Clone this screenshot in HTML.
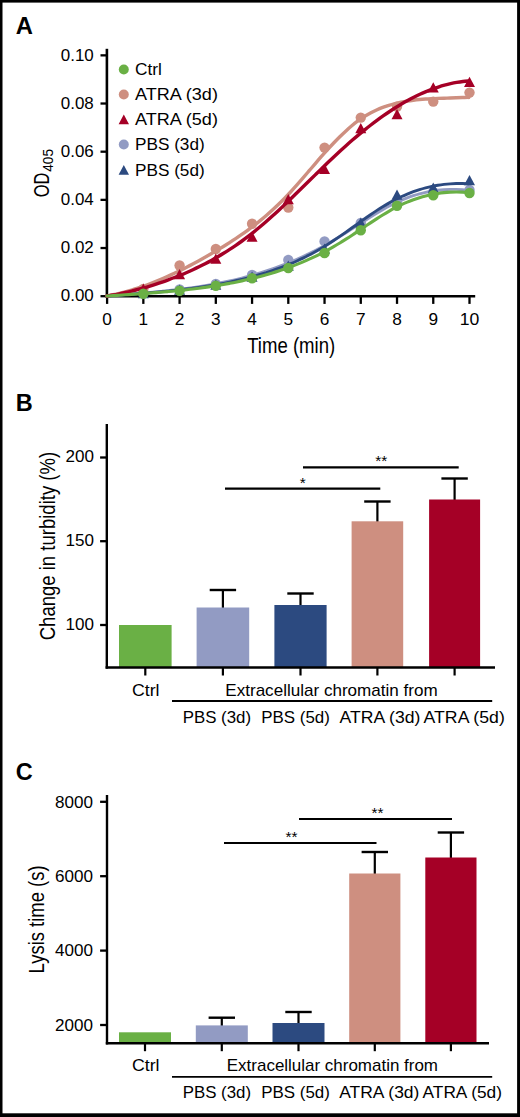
<!DOCTYPE html>
<html lang="en"><head><meta charset="utf-8"><title>Figure</title>
<style>html,body{margin:0;padding:0;background:#fff}svg{display:block}text{font-family:"Liberation Sans", Arial, Helvetica, sans-serif;fill:#000}</style></head><body>
<svg width="520" height="1117" viewBox="0 0 520 1117" role="img" aria-label="Figure panels A, B and C">
<rect x="0" y="0" width="520" height="1117" fill="#fff"/>
<rect x="0" y="0" width="520" height="2.6" fill="#000"/>
<rect x="0" y="1113.3" width="520" height="3.7" fill="#000"/>
<rect x="0" y="0" width="2.5" height="1117" fill="#000"/>
<rect x="517.1" y="0" width="2.9" height="1117" fill="#000"/>
<text x="15.7" y="33.8" font-size="23.8" text-anchor="start" font-weight="bold">A</text>
<line x1="106.9" y1="48.8" x2="106.9" y2="297.45" stroke="#000" stroke-width="2.6" stroke-linecap="butt"/>
<line x1="105.60000000000001" y1="296.2" x2="475.2" y2="296.2" stroke="#000" stroke-width="2.5" stroke-linecap="butt"/>
<line x1="100.5" y1="296.2" x2="106.9" y2="296.2" stroke="#000" stroke-width="2.3" stroke-linecap="butt"/>
<text x="93.8" y="301.4" font-size="15.7" text-anchor="end" font-weight="normal" textLength="33" lengthAdjust="spacingAndGlyphs">0.00</text>
<line x1="100.5" y1="248.02999999999997" x2="106.9" y2="248.02999999999997" stroke="#000" stroke-width="2.3" stroke-linecap="butt"/>
<text x="93.8" y="253.22999999999996" font-size="15.7" text-anchor="end" font-weight="normal" textLength="33" lengthAdjust="spacingAndGlyphs">0.02</text>
<line x1="100.5" y1="199.85999999999999" x2="106.9" y2="199.85999999999999" stroke="#000" stroke-width="2.3" stroke-linecap="butt"/>
<text x="93.8" y="205.05999999999997" font-size="15.7" text-anchor="end" font-weight="normal" textLength="33" lengthAdjust="spacingAndGlyphs">0.04</text>
<line x1="100.5" y1="151.69" x2="106.9" y2="151.69" stroke="#000" stroke-width="2.3" stroke-linecap="butt"/>
<text x="93.8" y="156.89" font-size="15.7" text-anchor="end" font-weight="normal" textLength="33" lengthAdjust="spacingAndGlyphs">0.06</text>
<line x1="100.5" y1="103.51999999999998" x2="106.9" y2="103.51999999999998" stroke="#000" stroke-width="2.3" stroke-linecap="butt"/>
<text x="93.8" y="108.71999999999998" font-size="15.7" text-anchor="end" font-weight="normal" textLength="33" lengthAdjust="spacingAndGlyphs">0.08</text>
<line x1="100.5" y1="55.349999999999966" x2="106.9" y2="55.349999999999966" stroke="#000" stroke-width="2.3" stroke-linecap="butt"/>
<text x="93.8" y="60.54999999999997" font-size="15.7" text-anchor="end" font-weight="normal" textLength="33" lengthAdjust="spacingAndGlyphs">0.10</text>
<line x1="107.1" y1="296.2" x2="107.1" y2="303.9" stroke="#000" stroke-width="2.3" stroke-linecap="butt"/>
<text x="107.1" y="324.7" font-size="15.7" text-anchor="middle" font-weight="normal" textLength="9.6" lengthAdjust="spacingAndGlyphs">0</text>
<line x1="143.34" y1="296.2" x2="143.34" y2="303.9" stroke="#000" stroke-width="2.3" stroke-linecap="butt"/>
<text x="143.34" y="324.7" font-size="15.7" text-anchor="middle" font-weight="normal" textLength="9.6" lengthAdjust="spacingAndGlyphs">1</text>
<line x1="179.57999999999998" y1="296.2" x2="179.57999999999998" y2="303.9" stroke="#000" stroke-width="2.3" stroke-linecap="butt"/>
<text x="179.57999999999998" y="324.7" font-size="15.7" text-anchor="middle" font-weight="normal" textLength="9.6" lengthAdjust="spacingAndGlyphs">2</text>
<line x1="215.82" y1="296.2" x2="215.82" y2="303.9" stroke="#000" stroke-width="2.3" stroke-linecap="butt"/>
<text x="215.82" y="324.7" font-size="15.7" text-anchor="middle" font-weight="normal" textLength="9.6" lengthAdjust="spacingAndGlyphs">3</text>
<line x1="252.06" y1="296.2" x2="252.06" y2="303.9" stroke="#000" stroke-width="2.3" stroke-linecap="butt"/>
<text x="252.06" y="324.7" font-size="15.7" text-anchor="middle" font-weight="normal" textLength="9.6" lengthAdjust="spacingAndGlyphs">4</text>
<line x1="288.3" y1="296.2" x2="288.3" y2="303.9" stroke="#000" stroke-width="2.3" stroke-linecap="butt"/>
<text x="288.3" y="324.7" font-size="15.7" text-anchor="middle" font-weight="normal" textLength="9.6" lengthAdjust="spacingAndGlyphs">5</text>
<line x1="324.53999999999996" y1="296.2" x2="324.53999999999996" y2="303.9" stroke="#000" stroke-width="2.3" stroke-linecap="butt"/>
<text x="324.53999999999996" y="324.7" font-size="15.7" text-anchor="middle" font-weight="normal" textLength="9.6" lengthAdjust="spacingAndGlyphs">6</text>
<line x1="360.78" y1="296.2" x2="360.78" y2="303.9" stroke="#000" stroke-width="2.3" stroke-linecap="butt"/>
<text x="360.78" y="324.7" font-size="15.7" text-anchor="middle" font-weight="normal" textLength="9.6" lengthAdjust="spacingAndGlyphs">7</text>
<line x1="397.02" y1="296.2" x2="397.02" y2="303.9" stroke="#000" stroke-width="2.3" stroke-linecap="butt"/>
<text x="397.02" y="324.7" font-size="15.7" text-anchor="middle" font-weight="normal" textLength="9.6" lengthAdjust="spacingAndGlyphs">8</text>
<line x1="433.26" y1="296.2" x2="433.26" y2="303.9" stroke="#000" stroke-width="2.3" stroke-linecap="butt"/>
<text x="433.26" y="324.7" font-size="15.7" text-anchor="middle" font-weight="normal" textLength="9.6" lengthAdjust="spacingAndGlyphs">9</text>
<line x1="469.5" y1="296.2" x2="469.5" y2="303.9" stroke="#000" stroke-width="2.3" stroke-linecap="butt"/>
<text x="469.5" y="324.7" font-size="15.7" text-anchor="middle" font-weight="normal" textLength="19.6" lengthAdjust="spacingAndGlyphs">10</text>
<text x="291.2" y="352.8" font-size="22.3" text-anchor="middle" font-weight="normal" textLength="88" lengthAdjust="spacingAndGlyphs">Time (min)</text>
<text transform="translate(49.3,197.3) rotate(-90)" font-size="21.8" textLength="24.6" lengthAdjust="spacingAndGlyphs">OD</text>
<text transform="translate(53.2,171.8) rotate(-90)" font-size="14.8" textLength="22.8" lengthAdjust="spacingAndGlyphs">405</text>
<path d="M107.00,296.00 C108.02,295.94 111.08,295.78 113.13,295.63 C115.17,295.49 117.21,295.30 119.25,295.13 C121.30,294.96 123.34,294.80 125.38,294.63 C127.42,294.46 129.47,294.29 131.51,294.12 C133.55,293.95 135.59,293.78 137.64,293.60 C139.68,293.43 141.72,293.25 143.76,293.07 C145.81,292.89 147.85,292.70 149.89,292.51 C151.93,292.32 153.97,292.13 156.02,291.93 C158.06,291.73 160.10,291.52 162.14,291.31 C164.19,291.10 166.23,290.88 168.27,290.66 C170.31,290.44 172.36,290.20 174.40,289.97 C176.44,289.73 178.48,289.48 180.53,289.22 C182.57,288.97 184.61,288.70 186.65,288.43 C188.69,288.16 190.74,287.87 192.78,287.58 C194.82,287.28 196.86,286.98 198.91,286.66 C200.95,286.35 202.99,286.02 205.03,285.68 C207.08,285.34 209.12,284.99 211.16,284.62 C213.20,284.26 215.25,283.88 217.29,283.49 C219.33,283.10 221.37,282.69 223.42,282.27 C225.46,281.85 227.50,281.42 229.54,280.97 C231.58,280.52 233.63,280.05 235.67,279.57 C237.71,279.08 239.75,278.58 241.80,278.07 C243.84,277.55 245.88,277.02 247.92,276.46 C249.97,275.91 252.01,275.34 254.05,274.75 C256.09,274.16 258.14,273.55 260.18,272.93 C262.22,272.30 264.26,271.65 266.31,270.98 C268.35,270.31 270.39,269.62 272.43,268.91 C274.47,268.20 276.52,267.46 278.56,266.71 C280.60,265.95 282.64,265.17 284.69,264.37 C286.73,263.57 288.77,262.74 290.81,261.89 C292.86,261.04 294.90,260.17 296.94,259.27 C298.98,258.37 301.03,257.45 303.07,256.50 C305.11,255.55 307.15,254.57 309.19,253.57 C311.24,252.57 313.28,251.54 315.32,250.48 C317.36,249.42 319.41,248.34 321.45,247.23 C323.49,246.11 325.53,244.97 327.58,243.80 C329.62,242.63 331.66,241.43 333.70,240.22 C335.75,239.00 337.79,237.76 339.83,236.51 C341.87,235.26 343.92,233.99 345.96,232.71 C348.00,231.43 350.04,230.13 352.08,228.84 C354.13,227.54 356.17,226.23 358.21,224.93 C360.25,223.63 362.30,222.31 364.34,221.02 C366.38,219.72 368.42,218.42 370.47,217.14 C372.51,215.86 374.55,214.60 376.59,213.36 C378.64,212.13 380.68,210.91 382.72,209.74 C384.76,208.57 386.81,207.42 388.85,206.33 C390.89,205.24 392.93,204.18 394.97,203.19 C397.02,202.20 399.06,201.26 401.10,200.37 C403.14,199.49 405.19,198.67 407.23,197.89 C409.27,197.12 411.31,196.40 413.36,195.74 C415.40,195.08 417.44,194.47 419.48,193.91 C421.53,193.36 423.57,192.85 425.61,192.40 C427.65,191.95 429.69,191.55 431.74,191.20 C433.78,190.85 435.82,190.56 437.86,190.31 C439.91,190.06 441.95,189.86 443.99,189.72 C446.03,189.57 448.08,189.47 450.12,189.42 C452.16,189.37 454.20,189.36 456.25,189.41 C458.29,189.45 460.33,189.54 462.37,189.68 C464.42,189.82 467.48,190.14 468.50,190.23" fill="none" stroke="#929bc3" stroke-width="2.9" stroke-linecap="round" stroke-linejoin="round"/>
<circle cx="143.34" cy="293" r="5.2" fill="#929bc3"/>
<circle cx="179.57999999999998" cy="289.5" r="5.2" fill="#929bc3"/>
<circle cx="215.82" cy="284" r="5.2" fill="#929bc3"/>
<circle cx="252.06" cy="275" r="5.2" fill="#929bc3"/>
<circle cx="288.3" cy="260" r="5.2" fill="#929bc3"/>
<circle cx="324.53999999999996" cy="241.4" r="5.2" fill="#929bc3"/>
<circle cx="360.78" cy="223" r="5.2" fill="#929bc3"/>
<circle cx="397.02" cy="202" r="5.2" fill="#929bc3"/>
<circle cx="433.26" cy="192" r="5.2" fill="#929bc3"/>
<circle cx="469.5" cy="190" r="5.2" fill="#929bc3"/>
<path d="M107.00,296.00 C108.02,295.93 111.08,295.75 113.13,295.61 C115.17,295.47 117.21,295.30 119.25,295.15 C121.30,295.00 123.34,294.85 125.38,294.69 C127.42,294.54 129.47,294.39 131.51,294.23 C133.55,294.08 135.59,293.92 137.64,293.76 C139.68,293.60 141.72,293.44 143.76,293.28 C145.81,293.11 147.85,292.95 149.89,292.77 C151.93,292.60 153.97,292.43 156.02,292.24 C158.06,292.06 160.10,291.88 162.14,291.69 C164.19,291.49 166.23,291.30 168.27,291.09 C170.31,290.89 172.36,290.68 174.40,290.46 C176.44,290.24 178.48,290.01 180.53,289.78 C182.57,289.54 184.61,289.30 186.65,289.05 C188.69,288.80 190.74,288.53 192.78,288.26 C194.82,287.99 196.86,287.71 198.91,287.42 C200.95,287.12 202.99,286.82 205.03,286.50 C207.08,286.19 209.12,285.86 211.16,285.52 C213.20,285.18 215.25,284.82 217.29,284.46 C219.33,284.09 221.37,283.71 223.42,283.31 C225.46,282.92 227.50,282.51 229.54,282.09 C231.58,281.66 233.63,281.22 235.67,280.76 C237.71,280.31 239.75,279.84 241.80,279.35 C243.84,278.86 245.88,278.35 247.92,277.83 C249.97,277.30 252.01,276.76 254.05,276.20 C256.09,275.64 258.14,275.06 260.18,274.45 C262.22,273.85 264.26,273.23 266.31,272.59 C268.35,271.94 270.39,271.27 272.43,270.58 C274.47,269.89 276.52,269.17 278.56,268.42 C280.60,267.68 282.64,266.91 284.69,266.11 C286.73,265.31 288.77,264.48 290.81,263.62 C292.86,262.77 294.90,261.88 296.94,260.96 C298.98,260.03 301.03,259.08 303.07,258.10 C305.11,257.11 307.15,256.09 309.19,255.03 C311.24,253.97 313.28,252.88 315.32,251.75 C317.36,250.62 319.41,249.45 321.45,248.24 C323.49,247.03 325.53,245.78 327.58,244.49 C329.62,243.21 331.66,241.88 333.70,240.53 C335.75,239.17 337.79,237.79 339.83,236.38 C341.87,234.98 343.92,233.54 345.96,232.10 C348.00,230.65 350.04,229.19 352.08,227.73 C354.13,226.27 356.17,224.80 358.21,223.34 C360.25,221.89 362.30,220.42 364.34,218.99 C366.38,217.56 368.42,216.13 370.47,214.73 C372.51,213.34 374.55,211.97 376.59,210.63 C378.64,209.30 380.68,208.00 382.72,206.75 C384.76,205.50 386.81,204.28 388.85,203.12 C390.89,201.96 392.93,200.84 394.97,199.78 C397.02,198.72 399.06,197.71 401.10,196.76 C403.14,195.80 405.19,194.91 407.23,194.06 C409.27,193.21 411.31,192.42 413.36,191.68 C415.40,190.94 417.44,190.25 419.48,189.62 C421.53,188.98 423.57,188.40 425.61,187.86 C427.65,187.33 429.69,186.84 431.74,186.41 C433.78,185.98 435.82,185.59 437.86,185.26 C439.91,184.92 441.95,184.64 443.99,184.40 C446.03,184.16 448.08,183.97 450.12,183.83 C452.16,183.68 454.20,183.59 456.25,183.54 C458.29,183.49 460.33,183.49 462.37,183.53 C464.42,183.57 467.48,183.75 468.50,183.79" fill="none" stroke="#2c4a80" stroke-width="2.9" stroke-linecap="round" stroke-linejoin="round"/>
<polygon points="143.34,288.00 148.84,298.18 137.84,298.18" fill="#2c4a80"/>
<polygon points="179.58,284.50 185.08,294.68 174.08,294.68" fill="#2c4a80"/>
<polygon points="215.82,279.50 221.32,289.68 210.32,289.68" fill="#2c4a80"/>
<polygon points="252.06,271.50 257.56,281.68 246.56,281.68" fill="#2c4a80"/>
<polygon points="288.30,260.50 293.80,270.68 282.80,270.68" fill="#2c4a80"/>
<polygon points="324.54,243.50 330.04,253.68 319.04,253.68" fill="#2c4a80"/>
<polygon points="360.78,217.50 366.28,227.68 355.28,227.68" fill="#2c4a80"/>
<polygon points="397.02,189.50 402.52,199.68 391.52,199.68" fill="#2c4a80"/>
<polygon points="433.26,182.50 438.76,192.68 427.76,192.68" fill="#2c4a80"/>
<polygon points="469.50,175.10 475.00,185.28 464.00,185.28" fill="#2c4a80"/>
<path d="M107.00,296.00 C108.02,295.79 111.08,295.18 113.13,294.73 C115.17,294.29 117.21,293.83 119.25,293.34 C121.30,292.85 123.34,292.32 125.38,291.77 C127.42,291.21 129.47,290.63 131.51,290.02 C133.55,289.41 135.59,288.76 137.64,288.10 C139.68,287.43 141.72,286.73 143.76,286.01 C145.81,285.29 147.85,284.54 149.89,283.77 C151.93,282.99 153.97,282.19 156.02,281.37 C158.06,280.54 160.10,279.69 162.14,278.82 C164.19,277.95 166.23,277.05 168.27,276.13 C170.31,275.21 172.36,274.27 174.40,273.31 C176.44,272.34 178.48,271.35 180.53,270.35 C182.57,269.34 184.61,268.31 186.65,267.26 C188.69,266.22 190.74,265.15 192.78,264.06 C194.82,262.97 196.86,261.87 198.91,260.74 C200.95,259.62 202.99,258.48 205.03,257.32 C207.08,256.16 209.12,254.98 211.16,253.79 C213.20,252.60 215.25,251.39 217.29,250.16 C219.33,248.94 221.37,247.70 223.42,246.43 C225.46,245.17 227.50,243.89 229.54,242.58 C231.58,241.27 233.63,239.94 235.67,238.58 C237.71,237.22 239.75,235.83 241.80,234.41 C243.84,232.98 245.88,231.53 247.92,230.04 C249.97,228.54 252.01,227.01 254.05,225.44 C256.09,223.86 258.14,222.25 260.18,220.59 C262.22,218.93 264.26,217.23 266.31,215.47 C268.35,213.71 270.39,211.91 272.43,210.05 C274.47,208.18 276.52,206.27 278.56,204.30 C280.60,202.32 282.64,200.30 284.69,198.20 C286.73,196.11 288.77,193.94 290.81,191.73 C292.86,189.52 294.90,187.23 296.94,184.92 C298.98,182.61 301.03,180.25 303.07,177.88 C305.11,175.51 307.15,173.11 309.19,170.72 C311.24,168.33 313.28,165.92 315.32,163.54 C317.36,161.16 319.41,158.78 321.45,156.46 C323.49,154.13 325.53,151.82 327.58,149.57 C329.62,147.32 331.66,145.11 333.70,142.97 C335.75,140.83 337.79,138.74 339.83,136.72 C341.87,134.71 343.92,132.75 345.96,130.89 C348.00,129.03 350.04,127.23 352.08,125.54 C354.13,123.85 356.17,122.24 358.21,120.74 C360.25,119.24 362.30,117.84 364.34,116.55 C366.38,115.26 368.42,114.07 370.47,112.97 C372.51,111.87 374.55,110.87 376.59,109.95 C378.64,109.02 380.68,108.19 382.72,107.42 C384.76,106.65 386.81,105.96 388.85,105.33 C390.89,104.69 392.93,104.13 394.97,103.61 C397.02,103.09 399.06,102.63 401.10,102.21 C403.14,101.79 405.19,101.43 407.23,101.10 C409.27,100.76 411.31,100.48 413.36,100.22 C415.40,99.96 417.44,99.74 419.48,99.55 C421.53,99.35 423.57,99.19 425.61,99.05 C427.65,98.90 429.69,98.79 431.74,98.68 C433.78,98.57 435.82,98.49 437.86,98.41 C439.91,98.33 441.95,98.27 443.99,98.20 C446.03,98.13 448.08,98.08 450.12,98.02 C452.16,97.95 454.20,97.89 456.25,97.82 C458.29,97.75 460.33,97.67 462.37,97.57 C464.42,97.48 467.48,97.30 468.50,97.25" fill="none" stroke="#ce8f80" stroke-width="3.4" stroke-linecap="round" stroke-linejoin="round"/>
<line x1="468.8" y1="97.5" x2="469.1" y2="93" stroke="#ce8f80" stroke-width="3.4" stroke-linecap="round"/>
<circle cx="143.34" cy="289" r="5.2" fill="#ce8f80"/>
<circle cx="179.57999999999998" cy="265.5" r="5.2" fill="#ce8f80"/>
<circle cx="215.82" cy="249" r="5.2" fill="#ce8f80"/>
<circle cx="252.06" cy="223.7" r="5.2" fill="#ce8f80"/>
<circle cx="288.3" cy="207.5" r="5.2" fill="#ce8f80"/>
<circle cx="324.53999999999996" cy="147.6" r="5.2" fill="#ce8f80"/>
<circle cx="360.78" cy="117.6" r="5.2" fill="#ce8f80"/>
<circle cx="397.02" cy="106.6" r="5.2" fill="#ce8f80"/>
<circle cx="433.26" cy="101.6" r="5.2" fill="#ce8f80"/>
<circle cx="469.5" cy="92.6" r="5.2" fill="#ce8f80"/>
<path d="M107.00,296.00 C108.02,295.84 111.09,295.39 113.14,295.03 C115.18,294.66 117.23,294.24 119.27,293.81 C121.32,293.39 123.36,292.94 125.41,292.48 C127.45,292.02 129.50,291.54 131.54,291.04 C133.59,290.54 135.63,290.03 137.68,289.49 C139.72,288.95 141.77,288.39 143.81,287.81 C145.86,287.23 147.90,286.63 149.95,286.01 C151.99,285.39 154.04,284.75 156.08,284.09 C158.13,283.43 160.18,282.74 162.22,282.04 C164.27,281.33 166.31,280.60 168.36,279.85 C170.40,279.10 172.45,278.33 174.49,277.53 C176.54,276.74 178.58,275.92 180.63,275.08 C182.67,274.23 184.72,273.37 186.76,272.47 C188.81,271.58 190.85,270.66 192.90,269.72 C194.94,268.77 196.99,267.80 199.03,266.80 C201.08,265.80 203.12,264.77 205.17,263.71 C207.21,262.65 209.26,261.56 211.31,260.44 C213.35,259.31 215.40,258.16 217.44,256.97 C219.49,255.78 221.53,254.56 223.58,253.30 C225.62,252.05 227.67,250.76 229.71,249.43 C231.76,248.10 233.80,246.73 235.85,245.33 C237.89,243.92 239.94,242.48 241.98,241.00 C244.03,239.51 246.07,237.99 248.12,236.42 C250.16,234.86 252.21,233.25 254.25,231.60 C256.30,229.96 258.34,228.26 260.39,226.54 C262.44,224.81 264.48,223.05 266.53,221.25 C268.57,219.46 270.62,217.63 272.66,215.78 C274.71,213.93 276.75,212.05 278.80,210.15 C280.84,208.24 282.89,206.32 284.93,204.38 C286.98,202.43 289.02,200.47 291.07,198.50 C293.11,196.53 295.16,194.54 297.20,192.55 C299.25,190.55 301.29,188.55 303.34,186.54 C305.38,184.54 307.43,182.52 309.47,180.52 C311.52,178.51 313.56,176.50 315.61,174.50 C317.66,172.50 319.70,170.50 321.75,168.51 C323.79,166.53 325.84,164.55 327.88,162.59 C329.93,160.63 331.97,158.68 334.02,156.76 C336.06,154.83 338.11,152.92 340.15,151.04 C342.20,149.16 344.24,147.30 346.29,145.48 C348.33,143.65 350.38,141.85 352.42,140.08 C354.47,138.31 356.51,136.57 358.56,134.86 C360.60,133.15 362.65,131.47 364.69,129.82 C366.74,128.18 368.79,126.56 370.83,124.98 C372.88,123.41 374.92,121.86 376.97,120.35 C379.01,118.84 381.06,117.36 383.10,115.93 C385.15,114.49 387.19,113.09 389.24,111.73 C391.28,110.36 393.33,109.04 395.37,107.75 C397.42,106.47 399.46,105.22 401.51,104.02 C403.55,102.81 405.60,101.65 407.64,100.52 C409.69,99.40 411.73,98.32 413.78,97.29 C415.82,96.25 417.87,95.26 419.92,94.31 C421.96,93.37 424.01,92.46 426.05,91.61 C428.10,90.75 430.14,89.94 432.19,89.18 C434.23,88.42 436.28,87.71 438.32,87.04 C440.37,86.38 442.41,85.76 444.46,85.20 C446.50,84.64 448.55,84.12 450.59,83.66 C452.64,83.20 454.68,82.79 456.73,82.43 C458.77,82.08 460.82,81.77 462.86,81.53 C464.91,81.28 467.98,81.04 469.00,80.95" fill="none" stroke="#a50026" stroke-width="3.4" stroke-linecap="round" stroke-linejoin="round"/>
<polygon points="143.34,283.50 148.84,293.68 137.84,293.68" fill="#a50026"/>
<polygon points="179.58,269.00 185.08,279.18 174.08,279.18" fill="#a50026"/>
<polygon points="215.82,253.50 221.32,263.68 210.32,263.68" fill="#a50026"/>
<polygon points="252.06,231.50 257.56,241.68 246.56,241.68" fill="#a50026"/>
<polygon points="288.30,194.00 293.80,204.18 282.80,204.18" fill="#a50026"/>
<polygon points="324.54,163.70 330.04,173.88 319.04,173.88" fill="#a50026"/>
<polygon points="360.78,123.00 366.28,133.18 355.28,133.18" fill="#a50026"/>
<polygon points="397.02,109.00 402.52,119.17 391.52,119.17" fill="#a50026"/>
<polygon points="433.26,82.30 438.76,92.47 427.76,92.47" fill="#a50026"/>
<polygon points="469.50,76.70 475.00,86.88 464.00,86.88" fill="#a50026"/>
<path d="M107.00,296.00 C108.02,295.94 111.08,295.78 113.13,295.65 C115.17,295.52 117.21,295.37 119.25,295.23 C121.30,295.10 123.34,294.96 125.38,294.82 C127.42,294.68 129.47,294.54 131.51,294.40 C133.55,294.26 135.59,294.12 137.64,293.97 C139.68,293.83 141.72,293.68 143.76,293.53 C145.81,293.38 147.85,293.23 149.89,293.07 C151.93,292.91 153.97,292.75 156.02,292.59 C158.06,292.42 160.10,292.26 162.14,292.08 C164.19,291.91 166.23,291.73 168.27,291.54 C170.31,291.35 172.36,291.16 174.40,290.96 C176.44,290.76 178.48,290.56 180.53,290.34 C182.57,290.13 184.61,289.91 186.65,289.68 C188.69,289.45 190.74,289.21 192.78,288.97 C194.82,288.72 196.86,288.46 198.91,288.20 C200.95,287.93 202.99,287.65 205.03,287.37 C207.08,287.08 209.12,286.78 211.16,286.47 C213.20,286.16 215.25,285.84 217.29,285.51 C219.33,285.18 221.37,284.83 223.42,284.47 C225.46,284.12 227.50,283.75 229.54,283.36 C231.58,282.97 233.63,282.58 235.67,282.16 C237.71,281.75 239.75,281.32 241.80,280.88 C243.84,280.43 245.88,279.98 247.92,279.50 C249.97,279.03 252.01,278.53 254.05,278.03 C256.09,277.52 258.14,276.99 260.18,276.45 C262.22,275.91 264.26,275.34 266.31,274.76 C268.35,274.18 270.39,273.58 272.43,272.96 C274.47,272.33 276.52,271.69 278.56,271.02 C280.60,270.36 282.64,269.67 284.69,268.96 C286.73,268.24 288.77,267.51 290.81,266.75 C292.86,265.99 294.90,265.20 296.94,264.39 C298.98,263.58 301.03,262.74 303.07,261.87 C305.11,261.01 307.15,260.11 309.19,259.19 C311.24,258.27 313.28,257.31 315.32,256.33 C317.36,255.35 319.41,254.34 321.45,253.29 C323.49,252.25 325.53,251.17 327.58,250.06 C329.62,248.95 331.66,247.81 333.70,246.64 C335.75,245.46 337.79,244.25 339.83,243.00 C341.87,241.76 343.92,240.47 345.96,239.17 C348.00,237.86 350.04,236.52 352.08,235.17 C354.13,233.83 356.17,232.46 358.21,231.09 C360.25,229.72 362.30,228.34 364.34,226.97 C366.38,225.60 368.42,224.22 370.47,222.87 C372.51,221.52 374.55,220.18 376.59,218.86 C378.64,217.55 380.68,216.26 382.72,215.00 C384.76,213.75 386.81,212.52 388.85,211.35 C390.89,210.18 392.93,209.04 394.97,207.96 C397.02,206.89 399.06,205.86 401.10,204.90 C403.14,203.93 405.19,203.02 407.23,202.17 C409.27,201.31 411.31,200.52 413.36,199.77 C415.40,199.03 417.44,198.34 419.48,197.70 C421.53,197.07 423.57,196.49 425.61,195.96 C427.65,195.43 429.69,194.96 431.74,194.54 C433.78,194.12 435.82,193.75 437.86,193.43 C439.91,193.12 441.95,192.86 443.99,192.65 C446.03,192.43 448.08,192.28 450.12,192.17 C452.16,192.06 454.20,192.01 456.25,192.00 C458.29,191.99 460.33,192.04 462.37,192.13 C464.42,192.23 467.48,192.50 468.50,192.57" fill="none" stroke="#6ab045" stroke-width="3.1" stroke-linecap="round" stroke-linejoin="round"/>
<circle cx="143.34" cy="293.7" r="5.2" fill="#6ab045"/>
<circle cx="179.57999999999998" cy="290.7" r="5.2" fill="#6ab045"/>
<circle cx="215.82" cy="285.7" r="5.2" fill="#6ab045"/>
<circle cx="252.06" cy="278.3" r="5.2" fill="#6ab045"/>
<circle cx="288.3" cy="268" r="5.2" fill="#6ab045"/>
<circle cx="324.53999999999996" cy="253" r="5.2" fill="#6ab045"/>
<circle cx="360.78" cy="230.3" r="5.2" fill="#6ab045"/>
<circle cx="397.02" cy="205.7" r="5.2" fill="#6ab045"/>
<circle cx="433.26" cy="195.3" r="5.2" fill="#6ab045"/>
<circle cx="469.5" cy="193" r="5.2" fill="#6ab045"/>
<circle cx="123.8" cy="69.5" r="5.0" fill="#6ab045"/>
<text x="135" y="75.4" font-size="15.9" text-anchor="start" font-weight="normal" textLength="26.9" lengthAdjust="spacingAndGlyphs">Ctrl</text>
<circle cx="123.8" cy="94.5" r="5.0" fill="#ce8f80"/>
<text x="135" y="100.4" font-size="15.9" text-anchor="start" font-weight="normal" textLength="82.9" lengthAdjust="spacingAndGlyphs">ATRA (3d)</text>
<polygon points="123.80,114.60 129.00,124.22 118.60,124.22" fill="#a50026"/>
<text x="135" y="125.4" font-size="15.9" text-anchor="start" font-weight="normal" textLength="82.9" lengthAdjust="spacingAndGlyphs">ATRA (5d)</text>
<circle cx="123.8" cy="144.5" r="5.0" fill="#929bc3"/>
<text x="135" y="150.4" font-size="15.9" text-anchor="start" font-weight="normal" textLength="69.7" lengthAdjust="spacingAndGlyphs">PBS (3d)</text>
<polygon points="123.80,165.10 129.00,174.72 118.60,174.72" fill="#2c4a80"/>
<text x="135" y="175.9" font-size="15.9" text-anchor="start" font-weight="normal" textLength="69.7" lengthAdjust="spacingAndGlyphs">PBS (5d)</text>
<text x="15.7" y="411" font-size="23.5" text-anchor="start" font-weight="bold">B</text>
<text transform="translate(54.5,546.1) rotate(-90)" font-size="21.8" text-anchor="middle" textLength="188.4" lengthAdjust="spacingAndGlyphs">Change in turbidity (%)</text>
<rect x="119" y="625" width="52.6" height="42.5" fill="#6ab045"/>
<line x1="222.9" y1="590" x2="222.9" y2="608.5" stroke="#000" stroke-width="2.2" stroke-linecap="butt"/>
<line x1="209.70000000000002" y1="590" x2="236.1" y2="590" stroke="#000" stroke-width="2.4" stroke-linecap="butt"/>
<rect x="196.6" y="607.5" width="52.6" height="60.0" fill="#929bc3"/>
<line x1="300.5" y1="593.5" x2="300.5" y2="606" stroke="#000" stroke-width="2.2" stroke-linecap="butt"/>
<line x1="287.3" y1="593.5" x2="313.7" y2="593.5" stroke="#000" stroke-width="2.4" stroke-linecap="butt"/>
<rect x="274.4" y="605" width="52.2" height="62.5" fill="#2c4a80"/>
<line x1="377.40000000000003" y1="501.5" x2="377.40000000000003" y2="522.3" stroke="#000" stroke-width="2.2" stroke-linecap="butt"/>
<line x1="364.20000000000005" y1="501.5" x2="390.6" y2="501.5" stroke="#000" stroke-width="2.4" stroke-linecap="butt"/>
<rect x="351.6" y="521.3" width="51.6" height="146.20000000000005" fill="#ce8f80"/>
<line x1="454.6" y1="478.5" x2="454.6" y2="500.5" stroke="#000" stroke-width="2.2" stroke-linecap="butt"/>
<line x1="441.40000000000003" y1="478.5" x2="467.8" y2="478.5" stroke="#000" stroke-width="2.4" stroke-linecap="butt"/>
<rect x="429.1" y="499.5" width="51" height="168.0" fill="#a50026"/>
<line x1="106.8" y1="424" x2="106.8" y2="668.65" stroke="#000" stroke-width="2.4" stroke-linecap="butt"/>
<line x1="105.6" y1="667.5" x2="495" y2="667.5" stroke="#000" stroke-width="2.4" stroke-linecap="butt"/>
<line x1="100.1" y1="625" x2="106.8" y2="625" stroke="#000" stroke-width="2.3" stroke-linecap="butt"/>
<text x="94" y="629.8" font-size="15.7" text-anchor="end" font-weight="normal" textLength="28.5" lengthAdjust="spacingAndGlyphs">100</text>
<line x1="100.1" y1="541.2" x2="106.8" y2="541.2" stroke="#000" stroke-width="2.3" stroke-linecap="butt"/>
<text x="94" y="546.0" font-size="15.7" text-anchor="end" font-weight="normal" textLength="28.5" lengthAdjust="spacingAndGlyphs">150</text>
<line x1="100.1" y1="457.5" x2="106.8" y2="457.5" stroke="#000" stroke-width="2.3" stroke-linecap="butt"/>
<text x="94" y="462.3" font-size="15.7" text-anchor="end" font-weight="normal" textLength="28.5" lengthAdjust="spacingAndGlyphs">200</text>
<line x1="145.3" y1="667.5" x2="145.3" y2="675.5" stroke="#000" stroke-width="2.2" stroke-linecap="butt"/>
<line x1="222.9" y1="667.5" x2="222.9" y2="675.5" stroke="#000" stroke-width="2.2" stroke-linecap="butt"/>
<line x1="300.5" y1="667.5" x2="300.5" y2="675.5" stroke="#000" stroke-width="2.2" stroke-linecap="butt"/>
<line x1="377.40000000000003" y1="667.5" x2="377.40000000000003" y2="675.5" stroke="#000" stroke-width="2.2" stroke-linecap="butt"/>
<line x1="454.6" y1="667.5" x2="454.6" y2="675.5" stroke="#000" stroke-width="2.2" stroke-linecap="butt"/>
<line x1="225" y1="488.7" x2="380.3" y2="488.7" stroke="#000" stroke-width="2.2" stroke-linecap="butt"/>
<text x="302.7" y="487.8" font-size="15.4" text-anchor="middle" font-weight="normal">*</text>
<line x1="303" y1="467.3" x2="458.7" y2="467.3" stroke="#000" stroke-width="2.2" stroke-linecap="butt"/>
<text x="381.2" y="466.40000000000003" font-size="15.4" text-anchor="middle" font-weight="normal">**</text>
<text x="145.7" y="696.1" font-size="15.7" text-anchor="middle" font-weight="normal" textLength="27.6" lengthAdjust="spacingAndGlyphs">Ctrl</text>
<text x="225.3" y="696.1" font-size="15.7" text-anchor="start" font-weight="normal" textLength="212.4" lengthAdjust="spacingAndGlyphs">Extracellular chromatin from</text>
<line x1="172" y1="701" x2="492.2" y2="701" stroke="#000" stroke-width="1.8" stroke-linecap="butt"/>
<text x="182.7" y="722.9" font-size="15.7" text-anchor="start" font-weight="normal" textLength="68.4" lengthAdjust="spacingAndGlyphs">PBS (3d)</text>
<text x="261.3" y="722.9" font-size="15.7" text-anchor="start" font-weight="normal" textLength="68.6" lengthAdjust="spacingAndGlyphs">PBS (5d)</text>
<text x="339.6" y="722.9" font-size="15.7" text-anchor="start" font-weight="normal" textLength="80.8" lengthAdjust="spacingAndGlyphs">ATRA (3d)</text>
<text x="423.6" y="722.9" font-size="15.7" text-anchor="start" font-weight="normal" textLength="81.2" lengthAdjust="spacingAndGlyphs">ATRA (5d)</text>
<text x="15.7" y="780" font-size="23.5" text-anchor="start" font-weight="bold">C</text>
<text transform="translate(43.6,919.4) rotate(-90)" font-size="21.8" text-anchor="middle" textLength="108" lengthAdjust="spacingAndGlyphs">Lysis time (s)</text>
<rect x="119" y="1032.3" width="52" height="11.0" fill="#6ab045"/>
<line x1="221.8" y1="1017.7" x2="221.8" y2="1026.4" stroke="#000" stroke-width="2.2" stroke-linecap="butt"/>
<line x1="208.60000000000002" y1="1017.7" x2="235.0" y2="1017.7" stroke="#000" stroke-width="2.4" stroke-linecap="butt"/>
<rect x="195.8" y="1025.4" width="52" height="17.899999999999864" fill="#929bc3"/>
<line x1="298.5" y1="1012" x2="298.5" y2="1024" stroke="#000" stroke-width="2.2" stroke-linecap="butt"/>
<line x1="285.3" y1="1012" x2="311.7" y2="1012" stroke="#000" stroke-width="2.4" stroke-linecap="butt"/>
<rect x="272.5" y="1023" width="52" height="20.299999999999955" fill="#2c4a80"/>
<line x1="374.8" y1="852" x2="374.8" y2="874.5" stroke="#000" stroke-width="2.2" stroke-linecap="butt"/>
<line x1="361.6" y1="852" x2="388.0" y2="852" stroke="#000" stroke-width="2.4" stroke-linecap="butt"/>
<rect x="349.2" y="873.5" width="51.2" height="169.79999999999995" fill="#ce8f80"/>
<line x1="450.90000000000003" y1="832.5" x2="450.90000000000003" y2="858.5" stroke="#000" stroke-width="2.2" stroke-linecap="butt"/>
<line x1="437.70000000000005" y1="832.5" x2="464.1" y2="832.5" stroke="#000" stroke-width="2.4" stroke-linecap="butt"/>
<rect x="425.3" y="857.5" width="51.2" height="185.79999999999995" fill="#a50026"/>
<line x1="107" y1="795" x2="107" y2="1044.45" stroke="#000" stroke-width="2.4" stroke-linecap="butt"/>
<line x1="105.8" y1="1043.3" x2="489" y2="1043.3" stroke="#000" stroke-width="2.4" stroke-linecap="butt"/>
<line x1="100.1" y1="1025" x2="107" y2="1025" stroke="#000" stroke-width="2.3" stroke-linecap="butt"/>
<text x="92.9" y="1030.7" font-size="15.7" text-anchor="end" font-weight="normal" textLength="38.0" lengthAdjust="spacingAndGlyphs">2000</text>
<line x1="100.1" y1="950.6" x2="107" y2="950.6" stroke="#000" stroke-width="2.3" stroke-linecap="butt"/>
<text x="92.9" y="956.3000000000001" font-size="15.7" text-anchor="end" font-weight="normal" textLength="38.0" lengthAdjust="spacingAndGlyphs">4000</text>
<line x1="100.1" y1="876.2" x2="107" y2="876.2" stroke="#000" stroke-width="2.3" stroke-linecap="butt"/>
<text x="92.9" y="881.9000000000001" font-size="15.7" text-anchor="end" font-weight="normal" textLength="38.0" lengthAdjust="spacingAndGlyphs">6000</text>
<line x1="100.1" y1="801.8" x2="107" y2="801.8" stroke="#000" stroke-width="2.3" stroke-linecap="butt"/>
<text x="92.9" y="807.5" font-size="15.7" text-anchor="end" font-weight="normal" textLength="38.0" lengthAdjust="spacingAndGlyphs">8000</text>
<line x1="145.0" y1="1043.3" x2="145.0" y2="1051.2" stroke="#000" stroke-width="2.2" stroke-linecap="butt"/>
<line x1="221.8" y1="1043.3" x2="221.8" y2="1051.2" stroke="#000" stroke-width="2.2" stroke-linecap="butt"/>
<line x1="298.5" y1="1043.3" x2="298.5" y2="1051.2" stroke="#000" stroke-width="2.2" stroke-linecap="butt"/>
<line x1="374.8" y1="1043.3" x2="374.8" y2="1051.2" stroke="#000" stroke-width="2.2" stroke-linecap="butt"/>
<line x1="450.90000000000003" y1="1043.3" x2="450.90000000000003" y2="1051.2" stroke="#000" stroke-width="2.2" stroke-linecap="butt"/>
<line x1="224" y1="843" x2="376.5" y2="843" stroke="#000" stroke-width="2.2" stroke-linecap="butt"/>
<text x="291.5" y="842.1" font-size="15.4" text-anchor="middle" font-weight="normal">**</text>
<line x1="299" y1="819" x2="452" y2="819" stroke="#000" stroke-width="2.2" stroke-linecap="butt"/>
<text x="377.5" y="818.1" font-size="15.4" text-anchor="middle" font-weight="normal">**</text>
<text x="145.7" y="1071.2" font-size="15.7" text-anchor="middle" font-weight="normal" textLength="27.6" lengthAdjust="spacingAndGlyphs">Ctrl</text>
<text x="226.8" y="1071.2" font-size="15.7" text-anchor="start" font-weight="normal" textLength="211.2" lengthAdjust="spacingAndGlyphs">Extracellular chromatin from</text>
<line x1="172" y1="1076.8" x2="492.2" y2="1076.8" stroke="#000" stroke-width="1.8" stroke-linecap="butt"/>
<text x="182.7" y="1097.8" font-size="15.7" text-anchor="start" font-weight="normal" textLength="68.4" lengthAdjust="spacingAndGlyphs">PBS (3d)</text>
<text x="261.3" y="1097.8" font-size="15.7" text-anchor="start" font-weight="normal" textLength="68.6" lengthAdjust="spacingAndGlyphs">PBS (5d)</text>
<text x="339.2" y="1097.8" font-size="15.7" text-anchor="start" font-weight="normal" textLength="80.2" lengthAdjust="spacingAndGlyphs">ATRA (3d)</text>
<text x="422.6" y="1097.8" font-size="15.7" text-anchor="start" font-weight="normal" textLength="79.4" lengthAdjust="spacingAndGlyphs">ATRA (5d)</text>
</svg></body></html>
